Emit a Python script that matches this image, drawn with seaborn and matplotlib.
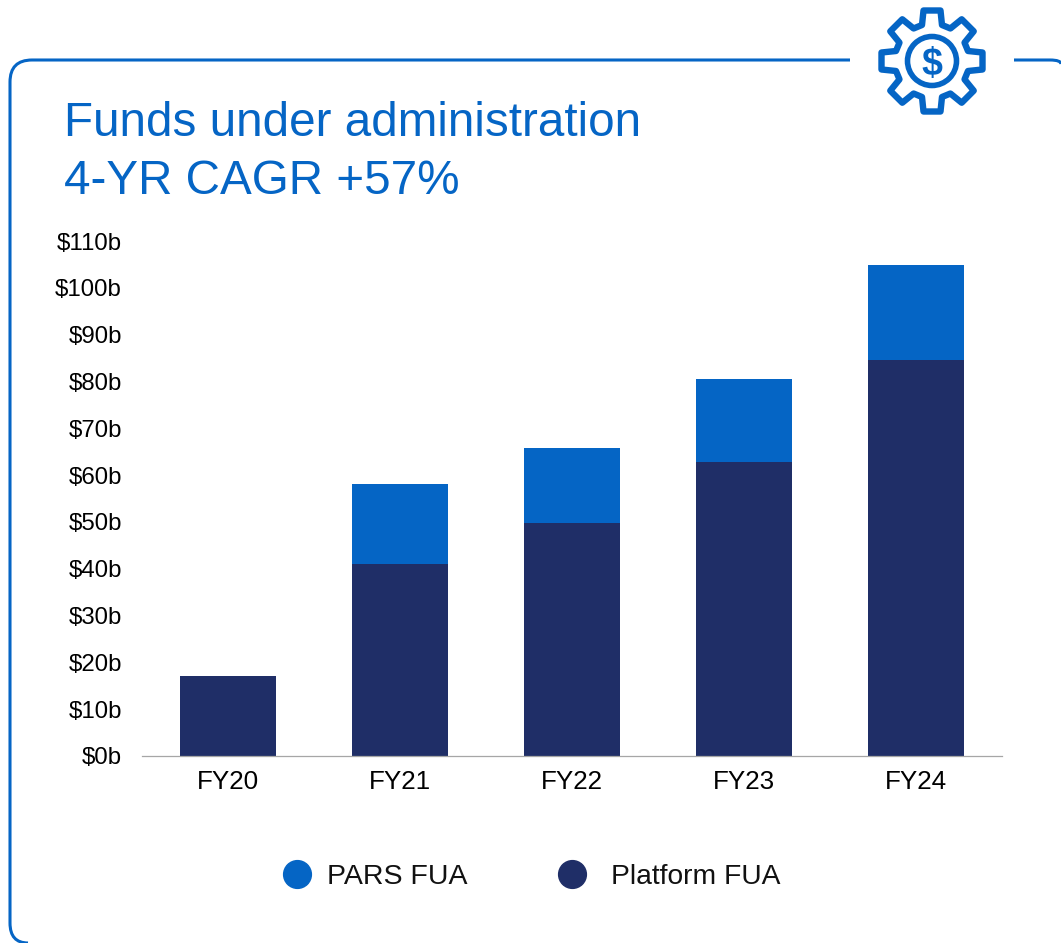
import numpy as np
import pandas as pd
import seaborn as sns
import matplotlib.pyplot as plt
from matplotlib.lines import Line2D
from matplotlib.patches import Circle, Polygon
from matplotlib.path import Path
from matplotlib.patches import PathPatch

years = ['FY20', 'FY21', 'FY22', 'FY23', 'FY24']
platform_fua = [17.1, 41.0, 49.8, 62.9, 84.6]
pars_fua = [0.0, 17.1, 16.0, 17.6, 20.3]
y_ticks = list(range(0, 111, 10))
y_tick_labels = ['$' + str(t) + 'b' for t in y_ticks]

BLUE = '#0565C5'
NAVY = '#1F2E67'
W, H = 1061, 943

sns.set_style('white')
plt.rcParams['font.family'] = ['Liberation Sans', 'DejaVu Sans']

df = pd.DataFrame({'year': years, 'platform': platform_fua, 'pars': pars_fua})

fig = plt.figure(figsize=(W / 100, H / 100), dpi=100)

# Chart area, placed by pixel position in the reference
ax = fig.add_axes([142 / W, 1 - 756 / H, 860 / W, 515 / H])
sns.barplot(data=df, x='year', y='platform', color=NAVY, width=0.558, saturation=1, linewidth=0, ax=ax)
sns.barplot(data=df, x='year', y='pars', color=BLUE, width=0.558, saturation=1, linewidth=0,
            bottom=df['platform'], ax=ax)
ax.set_xlim(-0.5, 4.5)
ax.set_ylim(0, 110)
ax.set_yticks(y_ticks)
ax.set_yticklabels(y_tick_labels)
ax.set_xlabel('')
ax.set_ylabel('')
ax.tick_params(axis='both', length=0, colors='black')
ax.tick_params(axis='x', pad=10, labelsize=18.7)
ax.tick_params(axis='y', pad=14.5, labelsize=17.3)
sns.despine(ax=ax, left=True)
ax.spines['bottom'].set_color('#A6A6A6')
ax.spines['bottom'].set_linewidth(0.9)

# Two legends, the gap after each marker differs in the reference
pars_handle = Line2D([], [], linestyle='none', marker='o', markersize=20, color=BLUE, label='PARS FUA')
platform_handle = Line2D([], [], linestyle='none', marker='o', markersize=20, color=NAVY, label='Platform FUA')
fig.legend(handles=[pars_handle], frameon=False, fontsize=20.5, labelcolor='#111111',
           loc='center left', bbox_to_anchor=(283 / W, 1 - 877 / H),
           handlelength=1, handletextpad=0.55, borderpad=0, borderaxespad=0)
fig.legend(handles=[platform_handle], frameon=False, fontsize=20.3, labelcolor='#111111',
           loc='center left', bbox_to_anchor=(558 / W, 1 - 877 / H),
           handlelength=1, handletextpad=0.87, borderpad=0, borderaxespad=0)

# Overlay for the frame and the icon, in pixel coordinates
over = fig.add_axes([0, 0, 1, 1], zorder=-1)
over.set_xlim(0, W)
over.set_ylim(H, 0)
over.axis('off')

frame = Path(
    [(850, 60), (32, 60), (10, 60), (10, 82), (10, 923), (10, 943), (28, 943)],
    [Path.MOVETO, Path.LINETO, Path.CURVE3, Path.CURVE3, Path.LINETO, Path.CURVE3, Path.CURVE3],
)
over.add_patch(PathPatch(frame, fill=False, edgecolor=BLUE, linewidth=2.2))
right = Path(
    [(1014, 60), (1050, 60), (1061, 60), (1061, 64)],
    [Path.MOVETO, Path.LINETO, Path.CURVE3, Path.CURVE3],
)
over.add_patch(PathPatch(right, fill=False, edgecolor=BLUE, linewidth=2.2))

# Gear icon
cx, cy = 932, 61
pts = []
for a in np.deg2rad(np.arange(0, 360, 45)):
    ca, sa = np.cos(a), np.sin(a)
    for r, h in [(36, -10), (50.5, -8.5), (50.5, 8.5), (36, 10)]:
        pts.append((cx + r * ca - h * sa, cy + r * sa + h * ca))
over.add_patch(Polygon(pts, closed=True, fill=False, edgecolor=BLUE, linewidth=4.6, joinstyle='round'))
over.add_patch(Circle((cx, cy), 24.5, fill=False, edgecolor=BLUE, linewidth=4))
over.text(cx, cy, '$', color=BLUE, fontsize=27, fontweight='bold', ha='center', va='center_baseline')

fig.text(64 / W, 1 - 124 / H, 'Funds under administration', color=BLUE, fontsize=34.3, va='center')
fig.text(64 / W, 1 - 182 / H, '4-YR CAGR +57%', color=BLUE, fontsize=34.3, va='center')

fig.savefig('out.png', dpi=100)
